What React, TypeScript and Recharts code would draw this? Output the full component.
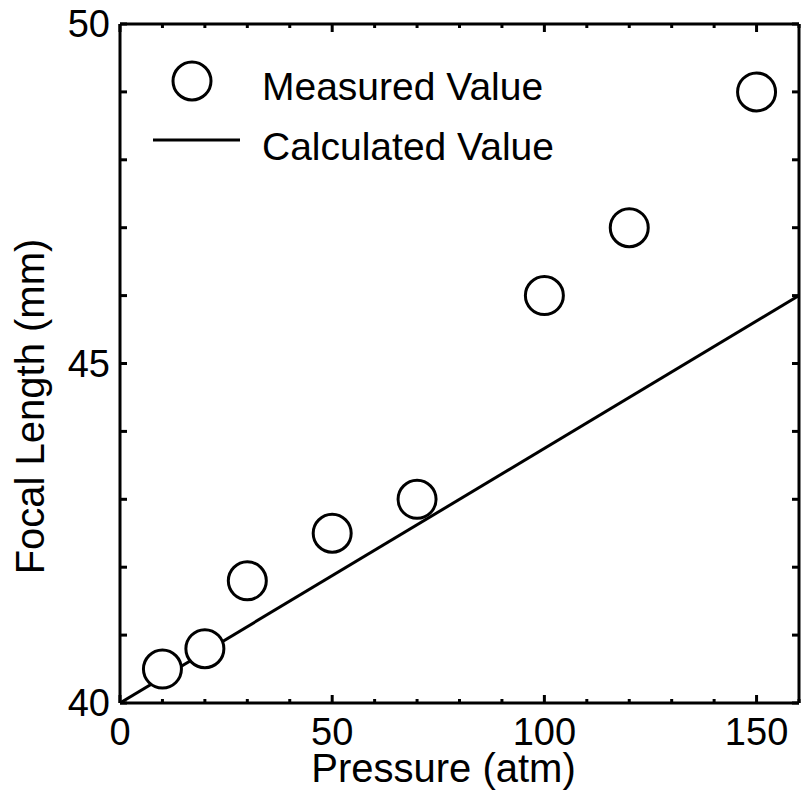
import React from 'react';
import { ScatterChart, Scatter, XAxis, YAxis, Label, Legend } from 'recharts';

const measuredPressure = [10, 20, 30, 50, 70, 100, 120, 150];
const measuredFocal = [40.5, 40.8, 41.8, 42.5, 43.0, 46.0, 47.0, 49.0];
const calcPressure = [0, 160];
const calcFocal = [40, 46];
const xTicks = [0, 10, 20, 30, 40, 50, 60, 70, 80, 90, 100, 110, 120, 130, 140, 150, 160];
const yTicks = [40, 41, 42, 43, 44, 45, 46, 47, 48, 49, 50];
const xLabeled = [0, 50, 100, 150];
const yLabeled = [40, 45, 50];

const measuredData = measuredPressure.map((p, i) => ({ x: p, y: measuredFocal[i] }));
const calcData = calcPressure.map((p, i) => ({ x: p, y: calcFocal[i] }));

const FONT = '"Liberation Sans", Arial, Helvetica, sans-serif';
const FS = 38;
const TFS = 40;
const LFS = 39;
const SW = 3;

const BottomTick = (props: any) => {
  const { x, y, payload } = props;
  const major = xLabeled.includes(payload.value);
  return (
    <g>
      <line x1={x} x2={x} y1={y} y2={y - (major ? 8 : 4)} stroke="#000" strokeWidth={SW} />
      {major && (
        <text x={x} y={y + 42} textAnchor="middle" fontSize={FS} fontFamily={FONT} fill="#000">
          {payload.value}
        </text>
      )}
    </g>
  );
};

const TopTick = (props: any) => {
  const { x, y, payload } = props;
  const major = xLabeled.includes(payload.value);
  return <line x1={x} x2={x} y1={y} y2={y + (major ? 8 : 4)} stroke="#000" strokeWidth={SW} />;
};

const LeftTick = (props: any) => {
  const { x, y, payload } = props;
  const labeled = yLabeled.includes(payload.value);
  return (
    <g>
      <line x1={x} x2={x + 7} y1={y} y2={y} stroke="#000" strokeWidth={SW} />
      {labeled && (
        <text x={x - 10} y={y + 13} textAnchor="end" fontSize={FS} fontFamily={FONT} fill="#000">
          {payload.value}
        </text>
      )}
    </g>
  );
};

const RightTick = (props: any) => {
  const { x, y } = props;
  return <line x1={x} x2={x - 7} y1={y} y2={y} stroke="#000" strokeWidth={SW} />;
};

const CircleShape = (props: any) => (
  <circle cx={props.cx} cy={props.cy} r={19} fill="#fff" stroke="#000" strokeWidth={SW} />
);

const NoShape = () => <g />;

const LegendContent = () => (
  <svg width={440} height={130} style={{ display: 'block' }}>
    <circle cx={52} cy={31} r={19} fill="#fff" stroke="#000" strokeWidth={SW} />
    <text x={122} y={50} fontSize={LFS} fontFamily={FONT} fill="#000">Measured Value</text>
    <line x1={13} x2={100} y1={90} y2={90} stroke="#000" strokeWidth={SW} />
    <text x={122} y={110} fontSize={LFS} fontFamily={FONT} fill="#000">Calculated Value</text>
  </svg>
);

const XTitle = (props: any) => {
  const vb = props.viewBox;
  return (
    <text x={vb.x + vb.width / 2 - 16} y={vb.y + 79} textAnchor="middle" fontSize={TFS} fontFamily={FONT} fill="#000">
      Pressure (atm)
    </text>
  );
};

const YTitle = (props: any) => {
  const vb = props.viewBox;
  const cx = vb.x + 44;
  const cy = vb.y + vb.height / 2 + 43;
  return (
    <text x={cx} y={cy} transform={`rotate(-90, ${cx}, ${cy})`} textAnchor="middle" fontSize={TFS} fontFamily={FONT} fill="#000">
      Focal Length (mm)
    </text>
  );
};

export default function App() {
  return (
    <div style={{ position: 'absolute', left: 0, top: 0, width: 802, height: 798, background: '#fff' }}>
      <ScatterChart width={802} height={798} margin={{ top: 0, right: 0, bottom: 0, left: 0 }}>
        <XAxis
          xAxisId="b"
          type="number"
          dataKey="x"
          domain={[0, 160]}
          allowDataOverflow
          ticks={xTicks}
          interval={0}
          orientation="bottom"
          height={95}
          tickSize={0}
          tickMargin={0}
          tickLine={false}
          axisLine={{ stroke: '#000', strokeWidth: SW }}
          tick={<BottomTick />}
        >
          <Label content={<XTitle />} />
        </XAxis>
        <XAxis
          xAxisId="t"
          type="number"
          dataKey="x"
          domain={[0, 160]}
          allowDataOverflow
          ticks={xTicks}
          interval={0}
          orientation="top"
          height={24}
          tickSize={0}
          tickMargin={0}
          tickLine={false}
          axisLine={{ stroke: '#000', strokeWidth: SW }}
          tick={<TopTick />}
        />
        <YAxis
          yAxisId="l"
          type="number"
          dataKey="y"
          domain={[40, 50]}
          allowDataOverflow
          ticks={yTicks}
          interval={0}
          orientation="left"
          width={120}
          tickSize={0}
          tickMargin={0}
          tickLine={false}
          axisLine={{ stroke: '#000', strokeWidth: SW }}
          tick={<LeftTick />}
        >
          <Label content={<YTitle />} />
        </YAxis>
        <YAxis
          yAxisId="r"
          type="number"
          dataKey="y"
          domain={[40, 50]}
          allowDataOverflow
          ticks={yTicks}
          interval={0}
          orientation="right"
          width={3}
          tickSize={0}
          tickMargin={0}
          tickLine={false}
          axisLine={{ stroke: '#000', strokeWidth: SW }}
          tick={<RightTick />}
        />
        <Legend
          layout="horizontal"
          align="center"
          verticalAlign="middle"
          content={<LegendContent />}
          wrapperStyle={{ position: 'absolute', left: 140, top: 50, width: 440, height: 130 }}
        />
        <Scatter
          name="Calculated Value"
          xAxisId="b"
          yAxisId="l"
          data={calcData}
          line={{ stroke: '#000', strokeWidth: SW }}
          shape={<NoShape />}
          isAnimationActive={false}
        />
        <Scatter
          name="Measured Value"
          xAxisId="b"
          yAxisId="l"
          data={measuredData}
          shape={<CircleShape />}
          isAnimationActive={false}
        />
      </ScatterChart>
    </div>
  );
}
